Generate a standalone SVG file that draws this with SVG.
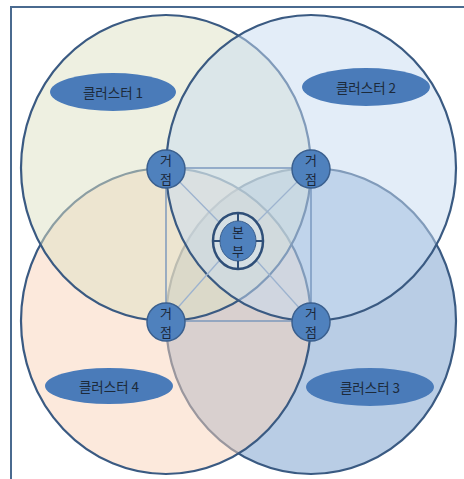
<svg xmlns="http://www.w3.org/2000/svg" width="464" height="479" viewBox="0 0 464 479">
<style>
.cl{stroke:#3a5a82;stroke-width:2.2;fill-opacity:0.5}
.lab{fill:#4a7bb9}
.lt{font-family:"Noto Sans CJK KR","Noto Sans",sans-serif;font-size:13.5px;fill:#1c2a3a;text-anchor:middle;dominant-baseline:central}
.nd{fill:#4f81bd;stroke:#3a5f8e;stroke-width:1.5}
.nt{font-family:"Noto Sans CJK KR","Noto Sans",sans-serif;font-size:13px;fill:#1a2638;text-anchor:middle;dominant-baseline:central}
.sq{stroke:#6f8fb8;stroke-width:1.3;fill:none}
.dg{stroke:#9db3cf;stroke-width:1.3;fill:none}
</style>
<rect x="0" y="0" width="464" height="479" fill="#ffffff"/>
<rect x="11" y="7" width="470" height="490" fill="none" stroke="#4a6a8f" stroke-width="2"/>
<g id="clusters">
<ellipse id="c3" class="cl" cx="311" cy="321" rx="145" ry="153" fill="#739bcb"/>
<ellipse id="c4" class="cl" cx="166" cy="321" rx="145" ry="153" fill="#f9d3b9"/>
<ellipse id="c1" class="cl" cx="166" cy="168" rx="145" ry="153" fill="#dde1c3"/>
<ellipse id="c2" class="cl" cx="311" cy="168" rx="145" ry="153" fill="#c7dbf1"/>
</g>
<g id="connectors">
<rect class="sq" x="166" y="168" width="145" height="153"/>
<line class="dg" x1="166" y1="168" x2="219" y2="222"/>
<line class="dg" x1="311" y1="168" x2="257" y2="222"/>
<line class="dg" x1="166" y1="321" x2="219" y2="261"/>
<line class="dg" x1="311" y1="321" x2="257" y2="261"/>
</g>
<g id="label1"><ellipse class="lab" cx="113" cy="92" rx="63" ry="19"/><text class="lt" x="113" y="92">클러스터 1</text></g>
<g id="label2"><ellipse class="lab" cx="366" cy="87" rx="64" ry="19"/><text class="lt" x="366" y="87">클러스터 2</text></g>
<g id="label3"><ellipse class="lab" cx="370" cy="387" rx="64" ry="19"/><text class="lt" x="370" y="387">클러스터 3</text></g>
<g id="label4"><ellipse class="lab" cx="109" cy="386" rx="64" ry="18"/><text class="lt" x="109" y="386">클러스터 4</text></g>
<g id="node1"><circle class="nd" cx="166" cy="169" r="19"/><text class="nt" x="166" y="159.5">거</text><text class="nt" x="166" y="178.5">점</text></g>
<g id="node2"><circle class="nd" cx="311" cy="169" r="19"/><text class="nt" x="311" y="159.5">거</text><text class="nt" x="311" y="178.5">점</text></g>
<g id="node3"><circle class="nd" cx="311" cy="322" r="19"/><text class="nt" x="311" y="312.5">거</text><text class="nt" x="311" y="331.5">점</text></g>
<g id="node4"><circle class="nd" cx="166" cy="322" r="19"/><text class="nt" x="166" y="312.5">거</text><text class="nt" x="166" y="331.5">점</text></g>
<g id="hq">
<ellipse cx="238" cy="241" rx="25" ry="28" fill="#dbe5f0" fill-opacity="0.4" stroke="#2f4f78" stroke-width="2.5"/>
<ellipse cx="238" cy="241" rx="18" ry="20" fill="#4f81bd" stroke="#3a5f8e" stroke-width="1"/>
<g stroke="#2f4f78" stroke-width="2">
<line x1="238" y1="213" x2="238" y2="221"/>
<line x1="238" y1="261" x2="238" y2="269"/>
<line x1="213" y1="241" x2="220" y2="241"/>
<line x1="256" y1="241" x2="263" y2="241"/>
</g>
<text class="nt" x="238" y="231.5">본</text><text class="nt" x="238" y="250.5">부</text>
</g>
</svg>
